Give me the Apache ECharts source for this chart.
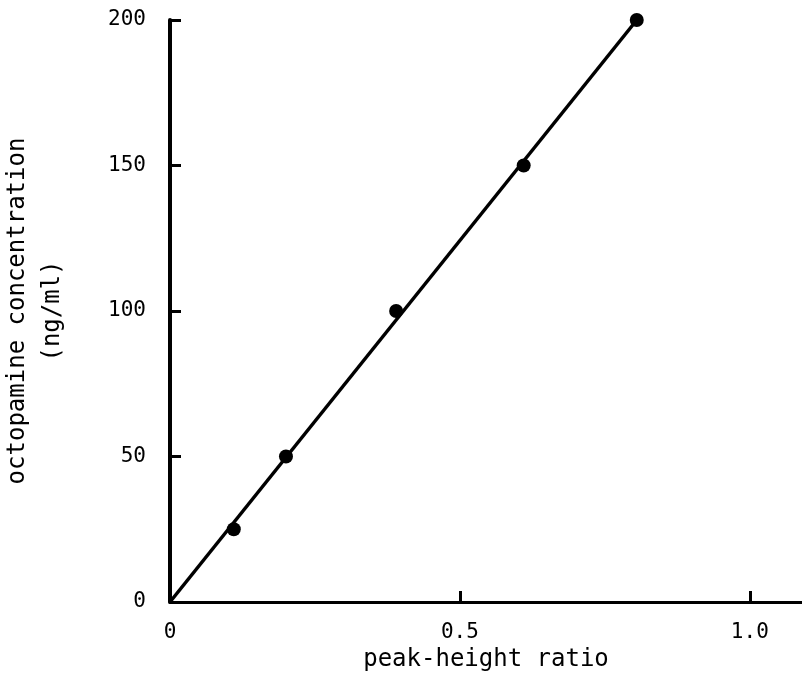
<!DOCTYPE html>
<html>
<head>
<meta charset="utf-8">
<script src="https://cdn.jsdelivr.net/npm/echarts@6/dist/echarts.min.js"></script>
<style>html,body{margin:0;padding:0;background:#fff}#c{width:802px;height:680px}</style>
</head>
<body>
<div id="c"></div>
<script>
const ratio = [0.11, 0.20, 0.39, 0.61, 0.805];
const conc = [25, 50, 100, 150, 200];
const fitLine = [[0, 0], [0.805, 200]];
const xTickLabels = {0: '0', 0.5: '0.5', 1: '1.0'};
const yTickLabels = {0: '0', 50: '50', 100: '100', 150: '150', 200: '200'};
const xTitle = 'peak-height ratio';
const yTitle = 'octopamine concentration\n(ng/ml)';

const font = 'DejaVu Sans Mono';
const chart = echarts.init(document.getElementById('c'), null, {renderer: 'canvas'});
chart.setOption({
  animation: false,
  backgroundColor: '#fff',
  grid: {left: 170, top: 20, right: 0, bottom: 78, containLabel: false, outerBoundsMode: 'none'},
  xAxis: {
    type: 'value', min: 0, max: 1.09, interval: 0.5,
    axisLine: {lineStyle: {color: '#000', width: 3}},
    axisTick: {inside: true, length: 11, lineStyle: {color: '#000', width: 3}},
    splitLine: {show: false},
    axisLabel: {
      color: '#000', fontFamily: font, fontSize: 21, margin: 20,
      showMaxLabel: false,
      formatter: v => xTickLabels[Math.round(v * 10) / 10] ?? ''
    },
    name: xTitle, nameLocation: 'middle', nameGap: 46,
    nameTextStyle: {color: '#000', fontFamily: font, fontSize: 24}
  },
  yAxis: {
    type: 'value', min: 0, max: 200, interval: 50,
    axisLine: {lineStyle: {color: '#000', width: 4}},
    axisTick: {inside: true, length: 11, lineStyle: {color: '#000', width: 3}},
    splitLine: {show: false},
    axisLabel: {
      color: '#000', fontFamily: font, fontSize: 21, margin: 24,
      formatter: v => yTickLabels[v] ?? ''
    },
    name: yTitle, nameLocation: 'middle', nameGap: 100, nameRotate: 90,
    nameTextStyle: {color: '#000', fontFamily: font, fontSize: 24, lineHeight: 35, align: 'center'}
  },
  series: [
    {
      type: 'line', data: fitLine, symbol: 'none',
      lineStyle: {color: '#000', width: 3.5}
    },
    {
      type: 'scatter', data: ratio.map((r, i) => [r, conc[i]]),
      symbol: 'circle', symbolSize: 14,
      itemStyle: {color: '#000', opacity: 1}
    }
  ]
});
</script>
</body>
</html>
